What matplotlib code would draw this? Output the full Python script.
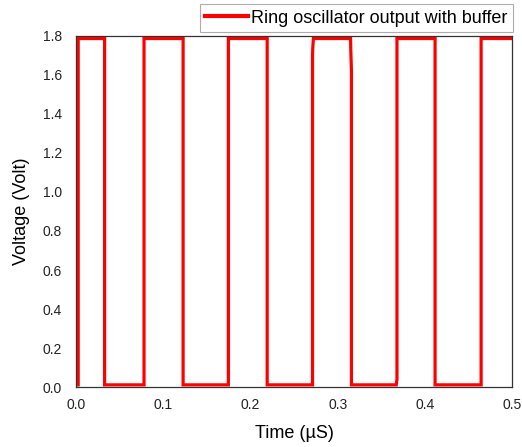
import matplotlib
matplotlib.use("Agg")
import matplotlib.pyplot as plt
import numpy as np

plt.rcParams['font.family'] = ['Liberation Sans', 'DejaVu Sans']

# Waveform vertices (time in µs, voltage in V)
time_us = [0.0, 0.0025, 0.0025, 0.0328, 0.0328, 0.078, 0.078, 0.1228, 0.1228,
           0.1747, 0.1747, 0.2192, 0.2192, 0.2712, 0.2712, 0.2715, 0.2722,
           0.3148, 0.3150, 0.3158, 0.3158, 0.3672, 0.3680, 0.3680, 0.4117, 0.4117,
           0.4645, 0.4645, 0.4985]
voltage = [0.011, 0.011, 1.787, 1.787, 0.011, 0.011, 1.787, 1.787, 0.011,
           0.011, 1.787, 1.787, 0.011, 0.011, 1.70, 1.74, 1.787,
           1.787, 1.74, 1.62, 0.011, 0.011, 0.04, 1.787, 1.787, 0.011,
           0.011, 1.787, 1.787]

fig = plt.figure(figsize=(5.22, 4.47), dpi=100)
ax = fig.add_axes([0.1456, 0.1342, 0.8354, 0.7853])
ax.plot(time_us, voltage, color='#ff0000', lw=2.3, label='Ring oscillator output with buffer',
        solid_joinstyle='miter')
ax.set_xlim(0, 0.5)
ax.set_ylim(0, 1.8)
ax.set_xticks(np.arange(0, 0.51, 0.1))
ax.set_yticks(np.arange(0, 1.81, 0.2))
ax.xaxis.set_major_formatter(matplotlib.ticker.FormatStrFormatter('%.1f'))
ax.yaxis.set_major_formatter(matplotlib.ticker.FormatStrFormatter('%.1f'))
ax.tick_params(length=0, labelsize=10, colors='#222222')
ax.tick_params(axis='y', pad=10)
ax.tick_params(axis='x', pad=8)
for s in ax.spines.values():
    s.set_linewidth(0.9)
    s.set_color('#333333')
ax.set_xlabel('Time (\u00b5S)', fontsize=13, labelpad=9)
ax.set_ylabel('Voltage (Volt)', fontsize=13, labelpad=9)
leg = ax.legend(loc='lower right', bbox_to_anchor=(1.002, 1.0114), fontsize=13,
                frameon=True, fancybox=False, edgecolor='#999999', handlelength=2.4,
                borderpad=0.3, handletextpad=0.15, borderaxespad=0.0)
leg.get_frame().set_linewidth(0.8)
for l in leg.get_lines():
    l.set_linewidth(3)
fig.savefig('out.png', dpi=100)
